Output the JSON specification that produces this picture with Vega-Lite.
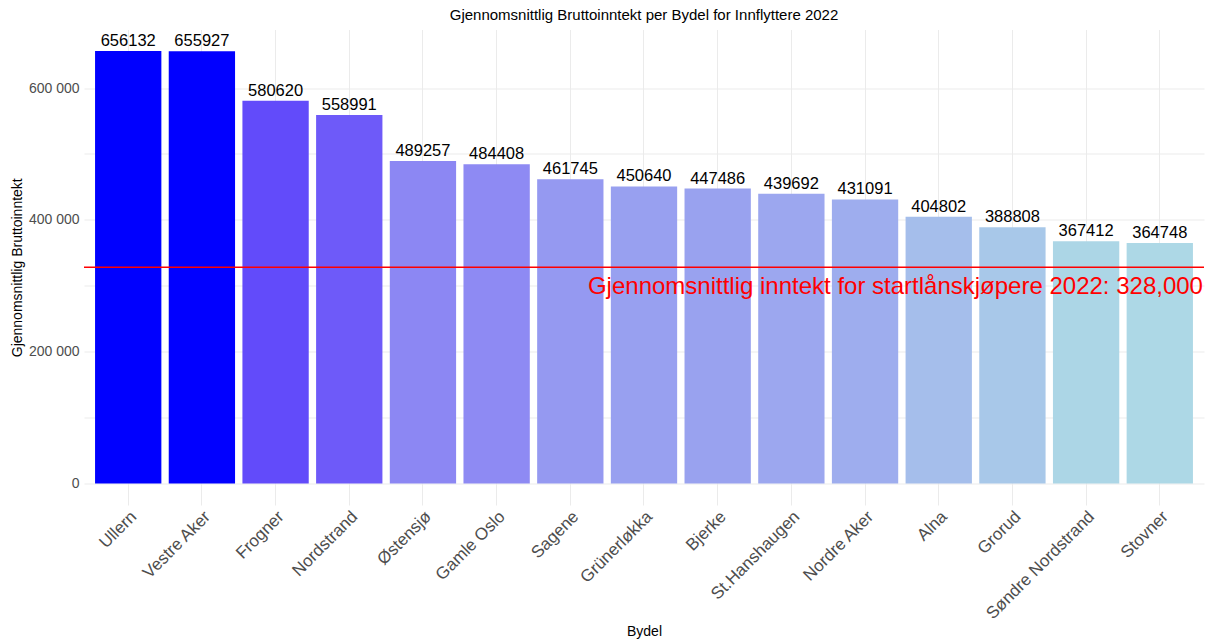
{
  "$schema": "https://vega.github.io/schema/vega-lite/v6.json",
  "autosize": "none",
  "width": 1120,
  "height": 475.5,
  "padding": {"left": 84, "top": 29.5, "right": 8, "bottom": 134},
  "background": "white",
  "config": {"view": {"stroke": null}, "font": "Liberation Sans"},
  "title": {"text": "Gjennomsnittlig Bruttoinntekt per Bydel for Innflyttere 2022", "anchor": "middle", "fontSize": 15, "fontWeight": "normal", "color": "black", "font": "Liberation Sans", "offset": 7},
  "datasets": {
    "bydeler": [
      {"Bydel": "Ullern", "Inntekt": 656132},
      {"Bydel": "Vestre Aker", "Inntekt": 655927},
      {"Bydel": "Frogner", "Inntekt": 580620},
      {"Bydel": "Nordstrand", "Inntekt": 558991},
      {"Bydel": "Østensjø", "Inntekt": 489257},
      {"Bydel": "Gamle Oslo", "Inntekt": 484408},
      {"Bydel": "Sagene", "Inntekt": 461745},
      {"Bydel": "Grünerløkka", "Inntekt": 450640},
      {"Bydel": "Bjerke", "Inntekt": 447486},
      {"Bydel": "St.Hanshaugen", "Inntekt": 439692},
      {"Bydel": "Nordre Aker", "Inntekt": 431091},
      {"Bydel": "Alna", "Inntekt": 404802},
      {"Bydel": "Grorud", "Inntekt": 388808},
      {"Bydel": "Søndre Nordstrand", "Inntekt": 367412},
      {"Bydel": "Stovner", "Inntekt": 364748}
    ],
    "ref": [
      {"Bydel": "Stovner", "Verdi": 328000, "Tekst": "Gjennomsnittlig inntekt for startlånskjøpere 2022: 328,000"}
    ]
  },
  "layer": [
    {"data": {"name": "bydeler"},
     "mark": {"type": "bar"},
     "encoding": {
      "x": {"field": "Bydel", "type": "nominal", "sort": null,
        "scale": {"paddingInner": 0.1, "paddingOuter": 0.15},
        "axis": {"title": "Bydel", "titleFontSize": 14, "titleColor": "black", "titleFontWeight": "normal", "titleY": 126, "titleBaseline": "middle",
          "labelAngle": -45, "labelAlign": "right", "labelBaseline": "top", "labelFontSize": 17, "labelColor": "#4d4d4d", "labelPadding": 3,
          "ticks": false, "domain": false, "grid": true, "gridColor": "#ebebeb", "gridWidth": 1, "bandPosition": 0.5}},
      "y": {"field": "Inntekt", "type": "quantitative",
        "scale": {"domain": [-32807, 688939], "nice": false, "zero": false},
        "axis": {"title": "Gjennomsnittlig Bruttoinntekt", "titleFontSize": 14, "titleColor": "black", "titleFontWeight": "normal", "titleX": -67, "titleBaseline": "middle",
          "values": [0, 100000, 200000, 300000, 400000, 500000, 600000],
          "labelExpr": "datum.value % 200000 == 0 ? replace(format(datum.value, ','), ',', ' ') : ''",
          "labelFontSize": 14, "labelColor": "#4d4d4d", "labelPadding": 5,
          "ticks": false, "domain": false, "grid": true, "gridColor": "#ebebeb", "gridWidth": 1}},
      "color": {"field": "Inntekt", "type": "quantitative", "scale": {"range": ["lightblue", "blue"], "interpolate": "lab", "domain": [364748, 656132]}, "legend": null}}},
    {"data": {"name": "bydeler"},
     "mark": {"type": "text", "baseline": "bottom", "dy": -2, "fontSize": 16.5, "color": "black"},
     "encoding": {
      "x": {"field": "Bydel", "type": "nominal", "sort": null},
      "y": {"field": "Inntekt", "type": "quantitative"},
      "text": {"field": "Inntekt", "type": "quantitative", "format": "d"}}},
    {"data": {"name": "ref"},
     "mark": {"type": "rule", "color": "#ff0000", "strokeWidth": 1.5},
     "encoding": {"y": {"field": "Verdi", "type": "quantitative"}}},
    {"data": {"name": "ref"},
     "mark": {"type": "text", "align": "right", "baseline": "top", "color": "#ff0000", "fontSize": 24, "dy": 8, "dx": 10},
     "encoding": {
      "x": {"field": "Bydel", "type": "nominal", "sort": null, "bandPosition": 1},
      "y": {"field": "Verdi", "type": "quantitative"},
      "text": {"field": "Tekst", "type": "nominal"}}}
  ]
}
